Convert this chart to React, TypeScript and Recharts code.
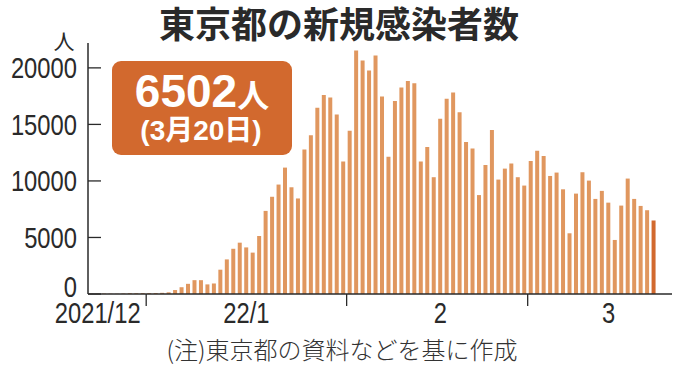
import React from "react";
import { Bar, BarChart, Cell, XAxis, YAxis } from "recharts";

// 東京都の新規感染者数 (daily)
const decCases = [30, 25, 35, 30, 20, 45, 75, 65, 80]; // 12/23 - 12/31
const janCases = [
    80, 85, 105, 150, 350, 600, 900, 1224, 1223, 850,
    930, 2150, 3060, 4000, 4540, 4120, 3660, 5130, 7350, 8600,
    9680, 11180, 9440, 8450, 12790, 14030, 16480, 17610, 17380, 15870,
    11710,
];
const febCases = [
    14430, 21540, 20650, 19770, 21090, 17470, 12150, 17080, 18260, 18850,
    18640, 11710, 13010, 10330, 15490, 17260, 17820, 16080, 13450, 12860,
    8750, 11420, 14510, 10120, 11090, 11540, 10330, 9590,
];
const marCases = [
    11770, 12660, 12210, 10440, 10740, 9260, 5370, 8880, 10770, 10030,
    8410, 9120, 8080, 4780, 7820, 10210, 8410, 7790, 7410, 6502,
];

const months = [
    { month: 12, firstDay: 23, cases: decCases },
    { month: 1, firstDay: 1, cases: janCases },
    { month: 2, firstDay: 1, cases: febCases },
    { month: 3, firstDay: 1, cases: marCases },
];

const yTicks = [0, 5000, 10000, 15000, 20000];
const monthStarts = ["1/1", "2/1", "3/1"];
const monthLabels: Record<string, string> = {
    "12/24": "2021/12",
    "1/16": "22/1",
    "2/15": "2",
    "3/13": "3",
};

const data = months.flatMap((m) =>
    m.cases.map((v, i) => ({ date: `${m.month}/${m.firstDay + i}`, cases: v }))
);
const lastIndex = data.length - 1;

const BAR = "#E0975F";
const HIGHLIGHT = "#D2692E";
const INK = "#2a2a2a";
const SANS = "'Liberation Sans', Arial, sans-serif";
const CJK = "'Noto Sans CJK JP', sans-serif";
// tick numbers in the reference are a condensed face: squeeze a regular one
const SQUEEZE = 0.82;

function XTick({ x, y, payload }: any) {
    const v = payload.value;
    if (monthStarts.includes(v)) {
        const bx = x - (payload.offset ?? 3.2);
        return <line x1={bx} x2={bx} y1={y} y2={y + 12} stroke={INK} strokeWidth={1.3} />;
    }
    return (
        <text
            transform={`translate(${x},${y + 29}) scale(${SQUEEZE},1)`}
            textAnchor="middle"
            fontSize={29}
            fontFamily={SANS}
            fill={INK}
        >
            {monthLabels[v]}
        </text>
    );
}

function YTick({ x, y, payload }: any) {
    const ty = payload.value === 0 ? y - 7 : y;
    return (
        <g>
            <line x1={x} x2={x + 13} y1={y} y2={y} stroke={INK} strokeWidth={1.3} />
            <text
                transform={`translate(${x - 11},${ty}) scale(${SQUEEZE},1)`}
                dy="0.36em"
                textAnchor="end"
                fontSize={29}
                fontFamily={SANS}
                fill={INK}
            >
                {payload.value}
            </text>
        </g>
    );
}

export default function App() {
    return (
        <div style={{ position: "absolute", left: 0, top: 0, width: 680, height: 366, background: "#fff" }}>
            <BarChart
                width={680}
                height={366}
                data={data}
                margin={{ top: 43, right: 8, bottom: 0, left: 0 }}
                barCategoryGap="16%"
            >
                <XAxis
                    dataKey="date"
                    height={72}
                    ticks={[...monthStarts, ...Object.keys(monthLabels)]}
                    interval={0}
                    tickSize={0}
                    tickMargin={0}
                    tickLine={false}
                    padding={{ left: 0, right: 15 }}
                    axisLine={{ stroke: INK, strokeWidth: 1.5 }}
                    tick={(props: any) => <XTick {...props} />}
                />
                <YAxis
                    width={88}
                    domain={[0, 22200]}
                    ticks={yTicks}
                    interval={0}
                    tickSize={0}
                    tickMargin={0}
                    tickLine={false}
                    axisLine={{ stroke: INK, strokeWidth: 1.5 }}
                    tick={(props: any) => <YTick {...props} />}
                />
                <Bar dataKey="cases" isAnimationActive={false}>
                    {data.map((d, i) => (
                        <Cell key={d.date} fill={i === lastIndex ? HIGHLIGHT : BAR} />
                    ))}
                </Bar>
            </BarChart>

            <svg
                width={680}
                height={366}
                style={{ position: "absolute", left: 0, top: 0, pointerEvents: "none" }}
            >
                <text x={339} y={38} textAnchor="middle" fontSize={36} fontWeight={700} fontFamily={CJK} fill={INK}>
                    東京都の新規感染者数
                </text>
                <text x={64} y={49} textAnchor="middle" fontSize={21} fontFamily={CJK} fill={INK}>
                    人
                </text>
                <rect x={112} y={61} width={180} height={94} rx={9} fill={HIGHLIGHT} />
                <text x={202} y={107} textAnchor="middle" fill="#fff" fontWeight={700} fontFamily={SANS}>
                    <tspan fontSize={46}>6502</tspan>
                    <tspan fontSize={32} fontFamily={CJK}>人</tspan>
                </text>
                <text x={201} y={140} textAnchor="middle" fill="#fff" fontSize={28} fontWeight={700} fontFamily={`${SANS}, 'Noto Sans CJK JP'`}>
                    (3月20日)
                </text>
                <text x={342} y={359} textAnchor="middle" fontSize={24} fontWeight={300} fontFamily={CJK} fill="#333">
                    (注)東京都の資料などを基に作成
                </text>
            </svg>
        </div>
    );
}
